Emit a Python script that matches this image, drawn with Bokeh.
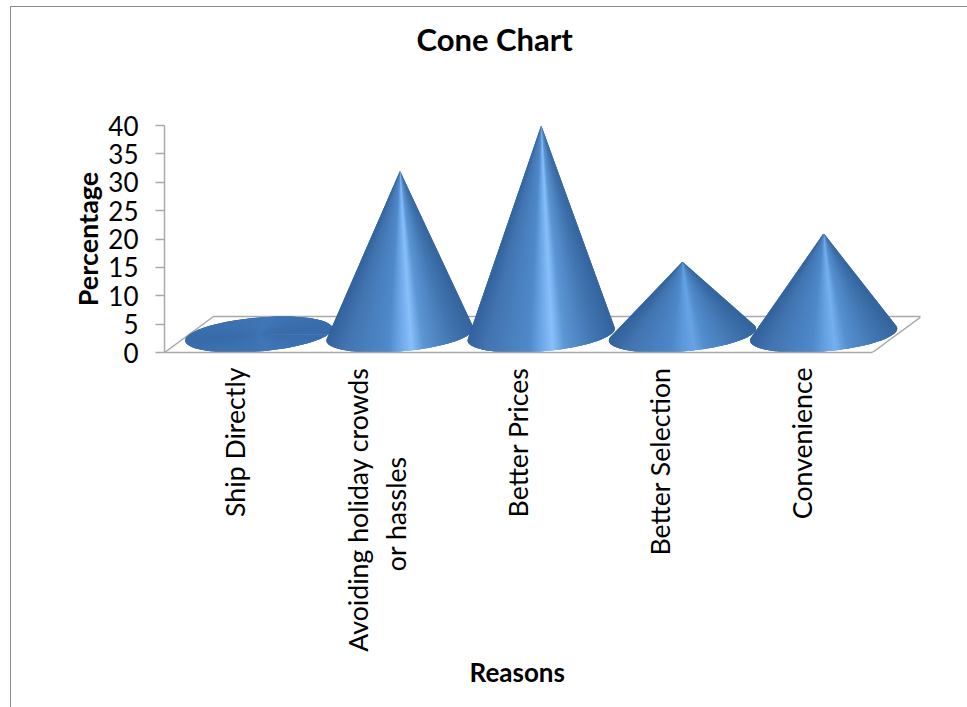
import numpy as np
from bokeh.embed import file_html
from bokeh.models import ColumnDataSource, FixedTicker, InlineStyleSheet, Range1d, Title
from bokeh.plotting import figure
from bokeh.resources import INLINE

title = "Cone Chart"
x_title = "Reasons"
y_title = "Percentage"
categories = ["Ship Directly", "Avoiding holiday crowds\nor hassles" + "\u00a0" * 13, "Better Prices", "Better Selection", "Convenience"]
values = [0, 32, 40, 16, 21]
y_ticks = [0, 5, 10, 15, 20, 25, 30, 35, 40]
highlight = [0.0, 1.0, 1.0, 0.3, 0.6]
contrast = [0.2, 1.0, 1.0, 1.0, 1.0]

FONT = "Lato"
GREY = "#a9a9a9"

page_rule = InlineStyleSheet(css=":host::before{content:'';position:absolute;left:10px;top:6px;right:0;bottom:0;"
                                 "border-left:1.5px solid #8c8c8c;border-top:1.5px solid #8c8c8c;"
                                 "z-index:5;pointer-events:none}")

p = figure(width=967, height=707, output_backend="svg", toolbar_location=None,
           x_range=Range1d(-0.5, 4.84), y_range=Range1d(0, 40),
           min_border_left=164, min_border_right=47, min_border_top=125, min_border_bottom=355,
           background_fill_color="white", border_fill_color="white", outline_line_color=None,
           stylesheets=[page_rule])
p.grid.visible = False

# floor (oblique projection: depth vector in data units)
DX, DY = 0.346, 6.34
R = 0.49
PITCH, SHIFT = 0.9975, -0.007
p.line([-0.5, -0.5 + DX, 4.5 + DX, 4.5], [0, DY, DY, 0], line_color=GREY, line_width=1.5)

STOPS = [0.0, 0.12, 0.42, 0.50, 0.58, 0.66, 0.85, 1.0]
BASE = np.array([[0x34, 0x64, 0x9e], [0x42, 0x74, 0xb0], [0x4d, 0x87, 0xc8], [0x55, 0x92, 0xd6],
                 [0x5a, 0x98, 0xdc], [0x4e, 0x89, 0xca], [0x43, 0x77, 0xb2], [0x35, 0x65, 0x9e]], float)
PEAK = np.array([[0x34, 0x64, 0x9e], [0x42, 0x74, 0xb0], [0x50, 0x8a, 0xca], [0x6c, 0xa6, 0xe6],
                 [0x88, 0xc0, 0xfa], [0x5c, 0x96, 0xd4], [0x43, 0x77, 0xb2], [0x35, 0x65, 0x9e]], float)
MID = np.array([0x3a, 0x6e, 0xad], float)


def shade(s, h, ct):
    pal = BASE + (PEAK - BASE) * h
    pal = MID + (pal - MID) * ct
    c = [np.interp(s, STOPS, pal[:, k]) for k in range(3)]
    return "#%02x%02x%02x" % tuple(int(round(v)) for v in c)


xs, ys, cols = [], [], []
for i, (v, h, ct) in enumerate(zip(values, highlight, contrast)):
    cx, cy = i * PITCH + SHIFT + DX / 2, DY / 2
    ay = max(v, cy)
    vv = (ay - cy) / (DY / 2)
    uu = -vv * (DX / 2) / R
    rho = np.hypot(uu, vv)
    n = 120
    if rho > 1:
        phi = np.arctan2(vv, uu)
        al = np.arccos(1 / rho)
        t = np.linspace(phi + al, phi + 2 * np.pi - al, n + 1)
        t = t[::-1]  # paint from the left tangent to the right one
    else:
        t = np.linspace(0, 2 * np.pi, n + 1)
    px = cx + R * np.cos(t) + np.sin(t) * DX / 2
    py = cy + np.sin(t) * DY / 2
    lo, hi = px.min(), px.max()
    for k in range(n):
        e = min(k + 4, n + 1)
        xs.append([cx] + list(px[k:e]))
        ys.append([ay] + list(py[k:e]))
        s = ((px[k] + px[k + 1]) / 2 - lo) / (hi - lo)
        cols.append(shade(s, h, ct))

src = ColumnDataSource(dict(xs=xs, ys=ys, c=cols))
p.patches("xs", "ys", source=src, fill_color="c", line_color=None)

# axes
ya = p.yaxis[0]
ya.ticker = FixedTicker(ticks=y_ticks)
ya.axis_label = y_title
ya.axis_label_text_font = FONT
ya.axis_label_text_font_style = "bold"
ya.axis_label_text_font_size = "27px"
ya.axis_label_text_color = "black"
ya.axis_label_standoff = 1
ya.major_label_text_font = FONT
ya.major_label_text_font_size = "26px"
ya.major_label_text_color = "black"
ya.major_label_standoff = 17
ya.axis_line_color = GREY
ya.axis_line_width = 1.5
ya.major_tick_line_color = GREY
ya.major_tick_line_width = 1.5
ya.major_tick_in = 0
ya.major_tick_out = 9
ya.minor_tick_line_color = None

xa = p.xaxis[0]
xa.bounds = (-0.5, 4.5)
xa.ticker = FixedTicker(ticks=list(range(len(categories))))
xa.major_label_overrides = {i: c for i, c in enumerate(categories)}
xa.major_label_orientation = np.pi / 2
xa.major_label_text_font = FONT
xa.major_label_text_font_size = "26.7px"
xa.major_label_text_color = "black"
xa.major_label_standoff = 9
xa.major_tick_line_color = None
xa.minor_tick_line_color = None
xa.axis_line_color = GREY
xa.axis_line_width = 1.5
xa.axis_label = x_title + "\u00a0" * 8
xa.axis_label_text_font = FONT
xa.axis_label_text_font_style = "bold"
xa.axis_label_text_font_size = "26px"
xa.axis_label_text_color = "black"
xa.axis_label_standoff = 1

p.title.text = title
p.title.text_font = FONT
p.title.text_font_size = "31px"
p.title.text_color = "black"
p.title.align = "left"
p.title.offset = 252
p.title.standoff = 2
p.add_layout(Title(text="\u00a0", text_font_size="12px", standoff=51), "above")

open("out.html", "w").write(file_html(p, INLINE))
